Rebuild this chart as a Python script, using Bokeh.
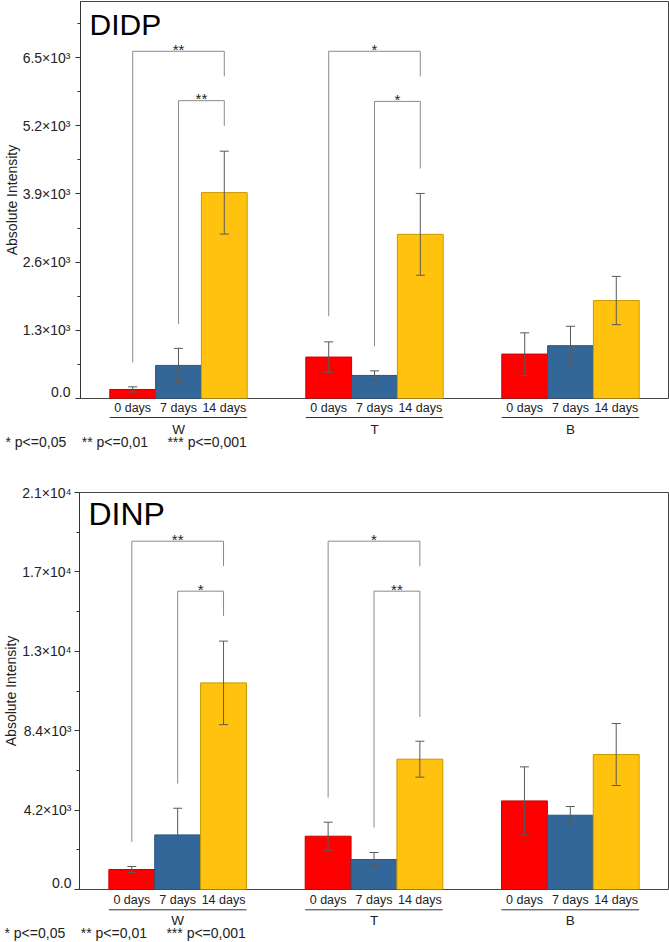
from bokeh.plotting import figure
from bokeh.models import (ColumnDataSource, Range1d, FixedTicker, Whisker, TeeHead, Title)
from bokeh.layouts import column
from bokeh.embed import file_html
from bokeh.resources import INLINE
from bokeh.core.properties import value

# ---------------- data ----------------
groups = ["W", "T", "B"]
days = ["0 days", "7 days", "14 days"]
bar_colors = ["#FF0000", "#336699", "#FFC20E"]
edge_colors = ["#C80000", "#2A5580", "#C99A00"]

# DIDP (order: W0 W7 W14 T0 T7 T14 B0 B7 B14)
didp_mean = [172, 631, 3926, 790, 440, 3130, 847, 1007, 1868]
didp_err = [50, 325, 790, 290, 87, 780, 405, 370, 460]
didp_ticks = [0, 1300, 2600, 3900, 5200, 6500]
didp_tick_labels = ["0.0", "1.3×10³", "2.6×10³", "3.9×10³", "5.2×10³", "6.5×10³"]
didp_minor = [650, 1950, 3250, 4550, 5850, 7150]
didp_ymax = 7570
didp_br_group = [0, 0, 1, 1]
didp_br_from = [0, 1, 0, 1]
didp_br_to = [2, 2, 2, 2]
didp_br_top = [6621, 5679, 6621, 5665]
didp_br_from_end = [688, 1420, 1568, 994]
didp_br_to_end = [6143, 5200, 6143, 4384]
didp_br_label = ["**", "**", "*", "*"]

# DINP
dinp_mean = [1058, 2888, 10929, 2820, 1587, 6892, 4687, 3930, 7140]
dinp_err = [160, 1410, 2210, 740, 370, 950, 1800, 460, 1640]
dinp_ticks = [0, 4200, 8400, 12600, 16800, 21000]
dinp_tick_labels = ["0.0", "4.2×10³", "8.4×10³", "1.3×10⁴", "1.7×10⁴", "2.1×10⁴"]
dinp_minor = [2100, 6300, 10500, 14700, 18900]
dinp_ymax = 21000
dinp_br_group = [0, 0, 1, 1]
dinp_br_from = [0, 1, 0, 1]
dinp_br_to = [2, 2, 2, 2]
dinp_br_top = [18424, 15780, 18424, 15780]
dinp_br_from_end = [2518, 5607, 4866, 3280]
dinp_br_to_end = [17100, 14473, 17100, 9130]
dinp_br_label = ["**", "*", "*", "**"]

NB = "\u00a0"
footnote = ("*" + NB + "p<=0,05" + NB * 4 + "**" + NB + "p<=0,01" + NB * 5
            + "***" + NB + "p<=0,001")

# ---------------- layout constants ----------------
BAR = 100
GAP = 128
PAD = 64
FONT = "Liberation Sans"
W = 669
LEFT = 78
DARK = "#333333"
TXT = "#222222"
X_END = len(groups) * 3 * BAR + (len(groups) - 1) * GAP   # right edge of last bar


def center(g, i):
    return g * (3 * BAR + GAP) + i * BAR + BAR // 2


def make_panel(name, mean, err, ticks, tick_labels, minor, ymax,
               br_group, br_from, br_to, br_top, br_from_end, br_to_end, br_label,
               top_border, lab_standoff, title_dy, title_size):
    xs, tops, uppers, lowers, fills, lines = [], [], [], [], [], []
    for g in range(len(groups)):
        for i in range(len(days)):
            k = g * len(days) + i
            xs.append(center(g, i))
            tops.append(mean[k])
            uppers.append(mean[k] + err[k])
            lowers.append(mean[k] - err[k])
            fills.append(bar_colors[i])
            lines.append(edge_colors[i])
    src = ColumnDataSource(dict(x=xs, top=tops, upper=uppers, lower=lowers,
                                fill=fills, line=lines))

    p = figure(width=W, height=top_border + 397 + 1,
               x_range=Range1d(-PAD, X_END + PAD), y_range=Range1d(0, ymax),
               output_backend="svg", toolbar_location=None,
               x_axis_location=None, title=None,
               min_border_left=LEFT, min_border_right=1,
               min_border_top=top_border, min_border_bottom=1)
    p.xgrid.visible = False
    p.ygrid.visible = False
    p.outline_line_color = "#444444"
    p.outline_line_width = 1
    p.background_fill_color = "white"
    p.border_fill_color = "white"

    p.vbar(x="x", top="top", bottom=0, width=BAR, source=src,
           fill_color="fill", line_color="line", line_width=1)

    wcol = "#5a5a5a"
    wh = Whisker(base="x", upper="upper", lower="lower", source=src,
                 line_color=wcol, line_width=1, level="overlay",
                 upper_head=TeeHead(size=9, line_color=wcol, line_width=1),
                 lower_head=TeeHead(size=9, line_color=wcol, line_width=1))
    p.add_layout(wh)

    # significance brackets
    bxs, bys, tx, ty = [], [], [], []
    for j in range(len(br_top)):
        xa = center(br_group[j], br_from[j])
        xb = center(br_group[j], br_to[j])
        bxs.append([xa, xa, xb, xb])
        bys.append([br_from_end[j], br_top[j], br_top[j], br_to_end[j]])
        tx.append((xa + xb) / 2)
        ty.append(br_top[j])
    p.multi_line(xs=bxs, ys=bys, line_color="#8a8a8a", line_width=1)
    p.text(x=tx, y=ty, text=br_label, text_align="center",
           text_baseline="middle", text_font=value(FONT),
           text_font_size="15px", text_color=TXT, y_offset=-2)

    # panel title
    p.text(x=[-PAD], y=[ymax], text=[name], text_align="left",
           text_baseline="middle", text_font=value(FONT),
           text_font_size=title_size, text_color="#000000",
           x_offset=9, y_offset=title_dy)

    # y axis
    ya = p.yaxis[0]
    ya.ticker = FixedTicker(ticks=ticks, minor_ticks=minor)
    ya.major_label_overrides = {t: l for t, l in zip(ticks, tick_labels)}
    ya.axis_label = "Absolute Intensity"
    ya.axis_label_text_font = FONT
    ya.axis_label_text_font_style = "normal"
    ya.axis_label_text_font_size = "14px"
    ya.axis_label_text_color = TXT
    ya.axis_label_standoff = 0
    ya.major_label_text_font = FONT
    ya.major_label_text_font_size = "14px"
    ya.major_label_text_color = TXT
    ya.major_label_standoff = lab_standoff
    ya.axis_line_color = DARK
    ya.major_tick_line_color = DARK
    ya.minor_tick_line_color = DARK
    ya.major_tick_out = 5
    ya.major_tick_in = 0
    ya.minor_tick_out = 3
    ya.minor_tick_in = 0
    return p


def make_strip(p, height, frame_h, day_px, line_px, group_px):
    """Day labels, group underline and group labels (in frame) plus the
    significance footnote (title below), sharing the panel's x range."""
    s = figure(width=W, height=height, x_range=p.x_range,
               y_range=Range1d(-frame_h, 0), output_backend="svg",
               toolbar_location=None, x_axis_location=None,
               y_axis_location=None, title=None,
               min_border_left=LEFT, min_border_right=1,
               min_border_top=0, min_border_bottom=height - frame_h)
    s.outline_line_color = None
    s.grid.visible = False
    s.background_fill_color = "white"
    s.border_fill_color = "white"

    day_x = [center(g, i) for g in range(len(groups)) for i in range(len(days))]
    day_t = [days[i] for g in range(len(groups)) for i in range(len(days))]
    s.text(x=day_x, y=[-day_px] * len(day_x), text=day_t,
           text_align="center", text_baseline="middle", text_font=value(FONT),
           text_font_size="12.5px", text_color=TXT)
    s.segment(x0=[center(g, 0) - BAR / 2 for g in range(len(groups))],
              x1=[center(g, 2) + BAR / 2 for g in range(len(groups))],
              y0=[-line_px] * len(groups), y1=[-line_px] * len(groups),
              line_color=DARK, line_width=1)
    s.text(x=[center(g, 1) for g in range(len(groups))],
           y=[-group_px] * len(groups), text=groups,
           text_align="center", text_baseline="middle", text_font=value(FONT),
           text_font_size="13.5px", text_color=TXT)
    s.add_layout(Title(text=footnote, align="left", offset=-(LEFT - 3),
                       standoff=-5, text_font=FONT, text_font_size="14px",
                       text_font_style="normal", text_color=TXT), "below")
    return s


p1 = make_panel("DIDP", didp_mean, didp_err, didp_ticks, didp_tick_labels,
                didp_minor, didp_ymax, didp_br_group, didp_br_from, didp_br_to,
                didp_br_top, didp_br_from_end, didp_br_to_end, didp_br_label,
                top_border=1, lab_standoff=5,
                title_dy=23, title_size="30px")                   # 0 .. 399
s1 = make_strip(p1, 53, 35, day_px=8, line_px=18, group_px=29.5)   # 399 .. 452
p2 = make_panel("DINP", dinp_mean, dinp_err, dinp_ticks, dinp_tick_labels,
                dinp_minor, dinp_ymax, dinp_br_group, dinp_br_from, dinp_br_to,
                dinp_br_top, dinp_br_from_end, dinp_br_to_end, dinp_br_label,
                top_border=40, lab_standoff=3,
                title_dy=21, title_size="32px")                   # 452 .. 890
s2 = make_strip(p2, 52, 35, day_px=9.3, line_px=19.3, group_px=30)  # 890 .. 942

layout = column(column(p1, s1, spacing=0), column(p2, s2, spacing=0), spacing=0)
open("out.html", "w").write(file_html(layout, INLINE))
